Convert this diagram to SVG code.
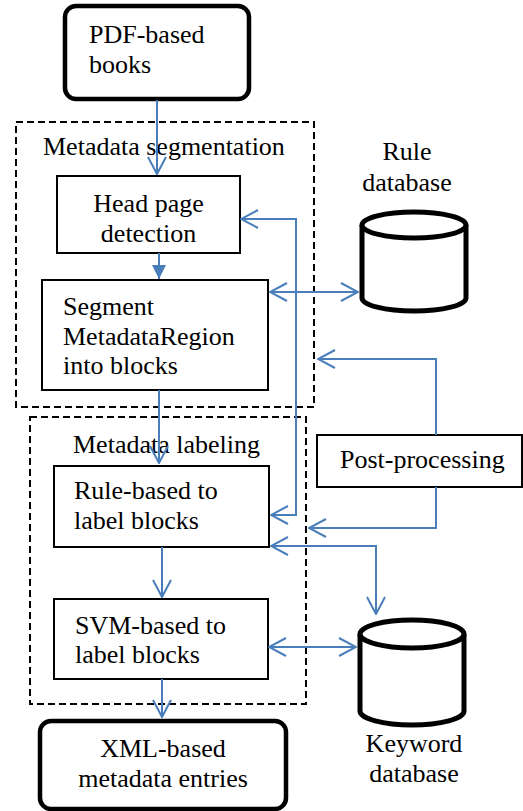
<svg xmlns="http://www.w3.org/2000/svg" width="523" height="811" viewBox="0 0 523 811">
<style>
text{font-family:"Liberation Serif","Times New Roman",serif;font-size:26px;fill:#000}
.thick{fill:#fff;stroke:#000;stroke-width:4.5}
.box{fill:#fff;stroke:#000;stroke-width:2}
.dash{fill:none;stroke:#000;stroke-width:2;stroke-dasharray:7,4}
.db{fill:#fff;stroke:#000;stroke-width:5}
.c{fill:none;stroke:#4a7ebb;stroke-width:2}
.mid{text-anchor:middle}
</style>
<defs>
<marker id="a" viewBox="0 0 20 20" refX="19" refY="10" markerWidth="20" markerHeight="20" markerUnits="userSpaceOnUse" orient="auto-start-reverse">
<path d="M2,1 L19,10 L2,19" fill="none" stroke="#4a7ebb" stroke-width="2"/>
</marker>
<marker id="f" viewBox="0 0 14 14" refX="14" refY="7" markerWidth="14" markerHeight="14" markerUnits="userSpaceOnUse" orient="auto">
<path d="M0,0 L14,7 L0,14 Z" fill="#4a7ebb"/>
</marker>
</defs>
<g id="seg-group"><rect class="dash" x="16" y="122" width="298" height="285"/><text x="43" y="155">Metadata segmentation</text></g>
<g id="label-group"><rect class="dash" x="30" y="417" width="276" height="287"/><text x="73" y="453">Metadata labeling</text></g>
<g id="pdf"><rect class="thick" x="65" y="6" width="184" height="93" rx="11"/><text x="89" y="43">PDF-based</text><text x="89" y="73">books</text></g>
<g id="head"><rect class="box" x="57" y="176" width="183" height="77"/><text class="mid" x="148.5" y="212">Head page</text><text class="mid" x="148.5" y="242">detection</text></g>
<g id="segment"><rect class="box" x="42" y="280" width="226" height="110"/><text x="63" y="315">Segment</text><text x="63" y="345">MetadataRegion</text><text x="63" y="374">into blocks</text></g>
<g id="rulebased"><rect class="box" x="54" y="466" width="215" height="81"/><text x="74" y="499">Rule-based to</text><text x="74" y="529">label blocks</text></g>
<g id="svm"><rect class="box" x="54" y="599" width="214" height="80"/><text x="75" y="634">SVM-based to</text><text x="75" y="663">label blocks</text></g>
<g id="xml"><rect class="thick" x="40" y="721" width="246" height="88" rx="11"/><text class="mid" x="163" y="757">XML-based</text><text class="mid" x="163" y="787">metadata entries</text></g>
<g id="post"><rect class="box" x="317" y="435" width="205" height="52"/><text x="340" y="468">Post-processing</text></g>
<g id="ruledb"><text class="mid" x="407" y="160">Rule</text><text class="mid" x="407" y="191">database</text><path class="db" d="M362,225 V298 A52,13 0 0 0 466,298 V225"/><ellipse class="db" cx="414" cy="225" rx="52" ry="13"/></g>
<g id="keyworddb"><path class="db" d="M360,634 V711 A52,14 0 0 0 464,711 V634"/><ellipse class="db" cx="412" cy="634" rx="52" ry="14"/><text class="mid" x="414" y="752">Keyword</text><text class="mid" x="414" y="782">database</text></g>
<g id="connectors">
<path class="c" d="M157,100 V174" marker-end="url(#a)"/>
<path class="c" d="M159,253 V279" marker-end="url(#f)"/>
<path class="c" d="M159,390 V463" marker-end="url(#a)"/>
<path class="c" d="M241,219 H296 V515 H271" marker-start="url(#a)" marker-end="url(#a)"/>
<path class="c" d="M270,292 H358" marker-start="url(#a)" marker-end="url(#a)"/>
<path class="c" d="M436,435 V359 H318" marker-end="url(#a)"/>
<path class="c" d="M436,487 V528 H309" marker-end="url(#a)"/>
<path class="c" d="M271,546 H376 V614" marker-start="url(#a)" marker-end="url(#a)"/>
<path class="c" d="M162,547 V597" marker-end="url(#a)"/>
<path class="c" d="M269,647 H356" marker-start="url(#a)" marker-end="url(#a)"/>
<path class="c" d="M162,679 V717" marker-end="url(#a)"/>
</g>
</svg>
